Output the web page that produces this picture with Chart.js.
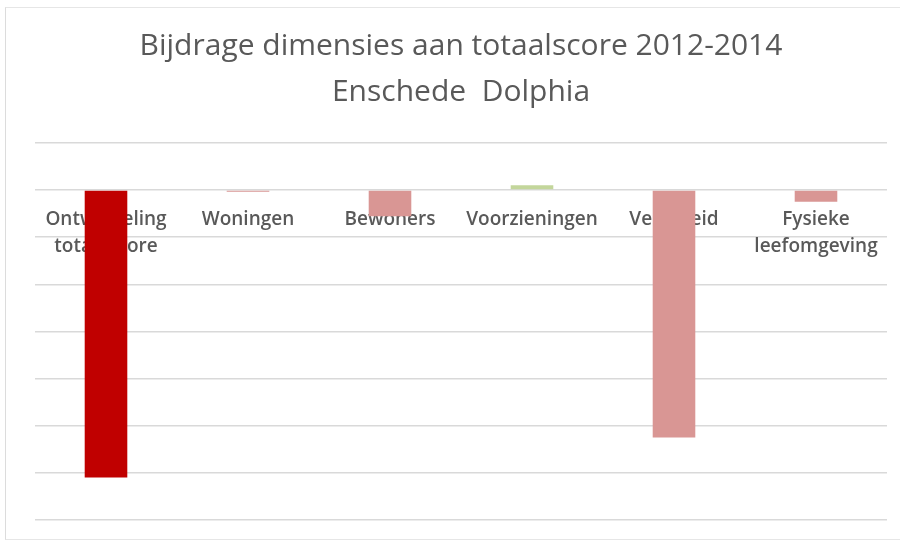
<!DOCTYPE html>
<html>
<head>
<meta charset="utf-8">
<script src="https://cdn.jsdelivr.net/npm/chart.js@4.4.1/dist/chart.umd.min.js"></script>
<style>
  html, body { margin: 0; padding: 0; background: #fff; }
  #wrap { position: relative; width: 900px; height: 545px; }
  #frame {
    position: absolute; left: 5px; top: 7px; width: 900px; height: 533px;
    border-left: 1px solid #dcdcdc; border-top: 1px solid #e6e6e6; border-bottom: 1px solid #e6e6e6;
    box-sizing: border-box;
  }
  canvas { position: absolute; left: 0; top: 0; }
</style>
</head>
<body>
<div id="wrap">
  <div id="frame"></div>
  <canvas id="myChart" width="900" height="545"></canvas>
</div>
<script>
var categories = [
  ["Ontwikkeling", "totaalscore"],
  "Woningen",
  "Bewoners",
  "Voorzieningen",
  "Veiligheid",
  ["Fysieke", "leefomgeving"]
];
var contributions = [-6.1, -0.04, -0.56, 0.1, -5.25, -0.25];
var barColors = ["#c00000", "#d99694", "#d99694", "#c3d69b", "#d99694", "#d99694"];
var yTicks = [-7, -6, -5, -4, -3, -2, -1, 0, 1];

document.addEventListener("DOMContentLoaded", function(e) {
  var ctx = document.getElementById("myChart");

  var myChart = new Chart(ctx, {
    type: "bar",
    data: {
      labels: categories,
      datasets: [
        {
          label: "Bijdrage",
          data: contributions,
          backgroundColor: barColors,
          borderWidth: 0,
          barPercentage: 0.3,
          categoryPercentage: 1
        }
      ]
    },
    options: {
      responsive: false,
      animation: false,
      layout: {
        padding: { left: 35, right: 13, bottom: 25, top: 0 }
      },
      plugins: {
        legend: { display: false },
        tooltip: { enabled: false },
        title: {
          display: true,
          text: ["Bijdrage dimensies aan totaalscore 2012-2014", "Enschede  Dolphia"],
          color: "#595959",
          font: { family: "'Open Sans', sans-serif", size: 30, weight: "normal", lineHeight: 1.53 },
          padding: { top: 24, bottom: 27 }
        }
      },
      scales: {
        x: {
          // category labels sit just under the zero line
          position: { y: 0 },
          grid: { display: false, drawTicks: false },
          border: { display: false },
          ticks: {
            color: "#595959",
            font: { family: "'Open Sans', sans-serif", size: 19, weight: "600", lineHeight: 1.42 },
            padding: 16,
            maxRotation: 0,
            autoSkip: false
          }
        },
        y: {
          min: yTicks[0],
          max: yTicks[yTicks.length - 1],
          afterBuildTicks: function(axis) {
            axis.ticks = yTicks.map(function(v) { return { value: v }; });
          },
          grid: { color: "#d9d9d9", lineWidth: 1.5, drawTicks: false },
          border: { display: false },
          ticks: { display: false }
        }
      }
    }
  });
});
</script>
</body>
</html>
